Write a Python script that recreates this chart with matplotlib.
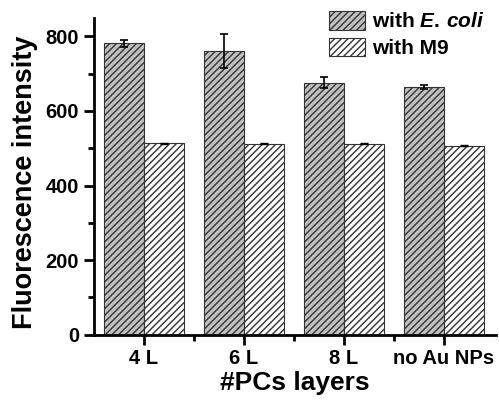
import matplotlib
matplotlib.use('Agg')
import matplotlib.pyplot as plt
import numpy as np
from matplotlib.ticker import MultipleLocator, FixedLocator

plt.rcParams['font.family'] = ['Liberation Sans', 'DejaVu Sans']
plt.rcParams['font.weight'] = 'bold'
plt.rcParams['mathtext.fontset'] = 'custom'
plt.rcParams['mathtext.it'] = 'Liberation Sans:italic:bold'
plt.rcParams['mathtext.rm'] = 'Liberation Sans:bold'
plt.rcParams['hatch.linewidth'] = 1.0

# 数据
categories = ['4 L', '6 L', '8 L', 'no Au NPs']
ecoli_vals = [781, 760, 676, 664]
ecoli_err = [10, 46, 14, 5]
m9_vals = [513, 512, 512, 507]
m9_err = [1, 1, 1, 1]

x = np.arange(1, len(categories) + 1)
w = 0.4

fig = plt.figure(figsize=(4.99, 4.0), dpi=100)
ax = fig.add_axes([0.188, 0.163, 0.805, 0.793])

ax.bar(x - w / 2, ecoli_vals, w, yerr=ecoli_err, color='#c0c0c0', edgecolor='#333333',
       linewidth=0.8, hatch='/////', capsize=3, error_kw=dict(elinewidth=1.2, capthick=1.2),
       label='with $\\it{E.\\,coli}$')
ax.bar(x + w / 2, m9_vals, w, yerr=m9_err, color='white', edgecolor='#333333',
       linewidth=0.8, hatch='/////', capsize=3, error_kw=dict(elinewidth=1.0, capthick=1.0),
       label='with M9')

ax.set_xlim(0.5, 4.52)
ax.set_ylim(0, 850)
ax.yaxis.set_major_locator(MultipleLocator(200))
ax.yaxis.set_minor_locator(MultipleLocator(100))
ax.set_xticks(x)
ax.set_xticklabels(categories)
ax.xaxis.set_minor_locator(FixedLocator([1.5, 2.5, 3.5]))

for s in ['top', 'right']:
    ax.spines[s].set_visible(False)
for s in ['left', 'bottom']:
    ax.spines[s].set_linewidth(2)

ax.tick_params(which='major', direction='out', length=7, width=2, labelsize=14.5)
ax.tick_params(which='minor', direction='out', length=4, width=2)

ax.set_xlabel('#PCs layers', fontsize=19, fontweight='bold', labelpad=2)
ax.set_ylabel('Fluorescence intensity', fontsize=19.5, fontweight='bold')
ax.yaxis.set_label_coords(-0.14, 0.48)

ax.legend(loc='upper right', bbox_to_anchor=(1.02, 1.08), frameon=False, fontsize=15,
          handlelength=1.75, handleheight=1.0, handletextpad=0.35, labelspacing=0.3)

plt.savefig('out.png', dpi=100)
plt.close()
